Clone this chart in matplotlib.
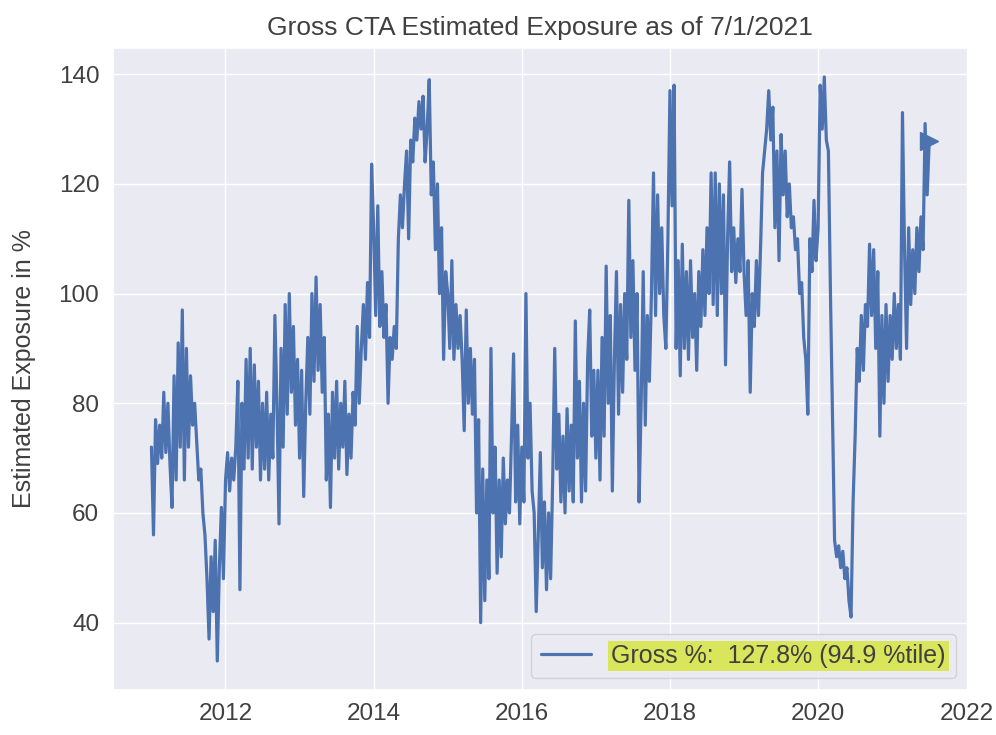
import matplotlib
matplotlib.use("Agg")
import matplotlib.pyplot as plt
import matplotlib.dates as mdates
import numpy as np
import pandas as pd
import seaborn as sns

# gross CTA exposure (%), roughly every 10 days
exp_2011 = [72, 56, 77, 69, 76, 70, 82, 71, 80, 69, 61, 85, 66, 91, 72, 97, 66, 90,
            72, 85, 76, 80, 73, 66, 68, 60, 56, 48, 37, 52, 42, 55, 33, 50, 61, 48]
exp_2012 = [66, 71, 64, 70, 66, 72, 84, 46, 80, 68, 88, 70, 90, 68, 87, 72, 84, 66,
            80, 68, 82, 66, 78, 70, 96, 80, 58, 90, 72, 98, 78, 100, 82, 94, 76, 88]
exp_2013 = [70, 86, 63, 80, 92, 78, 100, 84, 103, 86, 98, 82, 92, 66, 78, 61, 82, 70,
            84, 68, 80, 72, 84, 67, 78, 70, 82, 76, 94, 80, 90, 98, 88, 102, 92, 123.6]
exp_2014 = [112, 96, 116, 94, 104, 92, 98, 80, 92, 88, 94, 90, 110, 118, 112, 120, 126, 110,
            128, 124, 132, 128, 135, 130, 136, 124, 130, 139, 118, 124, 108, 120, 100, 112, 88, 104]
exp_2015 = [100, 90, 106, 88, 98, 90, 96, 88, 75, 97, 80, 90, 78, 88, 60, 77, 40, 68,
            44, 66, 48, 90, 60, 72, 49, 66, 52, 70, 58, 66, 60, 74, 89, 62, 76, 58]
exp_2016 = [72, 62, 100, 70, 80, 64, 60, 42, 56, 71, 50, 62, 46, 60, 48, 66, 90, 68,
            78, 62, 74, 60, 79, 64, 76, 62, 95, 70, 84, 62, 80, 64, 88, 97, 74, 86]
exp_2017 = [70, 86, 66, 92, 74, 105, 80, 96, 64, 88, 104, 78, 98, 82, 100, 88, 117, 92,
            106, 86, 100, 62, 80, 104, 76, 96, 84, 100, 122, 96, 118, 100, 112, 96, 90, 110]
exp_2018 = [137, 116, 138, 90, 106, 85, 109, 90, 104, 88, 106, 92, 100, 86, 104, 94, 108, 96,
            112, 100, 122, 98, 122, 96, 120, 100, 118, 87, 110, 124, 104, 112, 102, 110, 104, 119]
exp_2019 = [104, 96, 106, 82, 100, 94, 106, 96, 108, 122, 126, 130, 137, 128, 134, 112, 126, 106,
            129, 118, 126, 114, 120, 112, 114, 108, 110, 100, 102, 92, 88, 78, 110, 104, 117, 106]
exp_2020 = [112, 138, 130, 139.5, 128, 126, 100, 78, 55, 52, 54, 50, 53, 48, 50, 44, 41, 62,
            74, 90, 84, 96, 86, 98, 94, 109, 96, 108, 90, 104, 74, 96, 80, 98, 84, 96]
exp_2021 = [88, 100, 90, 98, 88, 133, 108, 90, 112, 98, 108, 100, 112, 104, 114, 108, 131, 118,
            127.8]

exposure = (exp_2011 + exp_2012 + exp_2013 + exp_2014 + exp_2015 + exp_2016 + exp_2017
            + exp_2018 + exp_2019 + exp_2020 + exp_2021)
dates = pd.date_range("2011-01-01", "2021-07-01", periods=len(exposure))

legend_label = "Gross %:  127.8% (94.9 %tile)"
title = "Gross CTA Estimated Exposure as of 7/1/2021"

sns.set_theme(style="darkgrid")
plt.rcParams["font.family"] = ["Liberation Sans", "DejaVu Sans"]

fig, ax = plt.subplots(figsize=(9.96, 7.35), dpi=100)
fig.subplots_adjust(left=0.113, right=0.972, top=0.935, bottom=0.061)

blue = "#4C72B0"
ax.plot(dates, exposure, color=blue, lw=2.3, label=legend_label)
ax.plot(dates[-1], exposure[-1], marker=">", ms=13, color=blue, linestyle="none")

ax.xaxis.set_major_locator(mdates.YearLocator(2))
ax.xaxis.set_major_formatter(mdates.DateFormatter("%Y"))
ax.set_yticks([40, 60, 80, 100, 120, 140])
ax.tick_params(labelsize=17.5, colors=".25")

ax.set_title(title, fontsize=19, color=".25", pad=9)
ax.set_ylabel("Estimated Exposure in %", fontsize=18, color=".25", labelpad=16)

leg = ax.legend(loc="lower right", fontsize=18)
leg.get_texts()[0].set_color(".25")
leg.get_texts()[0].set_bbox(dict(boxstyle="square,pad=0.12", facecolor="#d9e65c",
                                 edgecolor="none"))

fig.savefig("out.png", dpi=100)
